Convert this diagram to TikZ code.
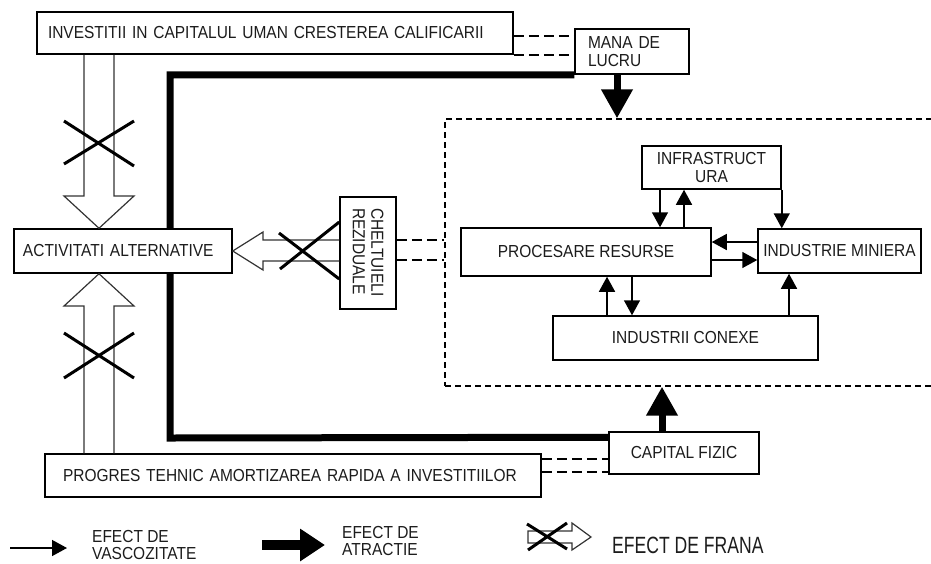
\documentclass[tikz,border=0pt]{standalone}
\usepackage{fontspec}
\setmainfont{Liberation Sans}[FakeStretch=0.89]
\usetikzlibrary{calc,arrows.meta,positioning}
\definecolor{inkc}{HTML}{1C1C1C}
\tikzset{
  box/.style={draw,line width=1.5pt,fill=white,text=inkc,font=\fontsize{17.4}{18.5}\selectfont,inner sep=0pt},
  zone/.style={draw,line width=1.3pt,dash pattern=on 6pt off 4pt},
  vis/.style={-{Triangle[length=15pt,width=16pt]},line width=1.5pt},
  atr/.style={-{Triangle[length=29pt,width=30pt]},line width=7pt},
  heavy/.style={line width=7pt,line join=miter},
  dl/.style={line width=1.5pt,dash pattern=on 10pt off 5pt},
  hol/.style={line width=1.2pt,draw=black!80,line join=miter},
  crs/.style={line width=3pt},
  lgd/.style={text=inkc,font=\fontsize{17.4}{17.5}\selectfont,align=left,inner sep=0pt}
}
\begin{document}
\begin{tikzpicture}[x=1pt,y=-1pt]
\useasboundingbox (0,0) rectangle (931,563);
% dashed zone and its boxes
\node[zone,minimum width=495pt,minimum height=267pt] (core) at (692.5,252.5) {};
\node[box,minimum width=139pt,minimum height=43pt,align=center] (infra) at (711.5,167.5) {INFRASTRUCT\\URA};
\node[box,minimum width=250pt,minimum height=48pt] (proc) at (586,252) {PROCESARE RESURSE};
\node[box,minimum width=163pt,minimum height=44pt] (min) at (839.5,251) {INDUSTRIE MINIERA};
\node[box,minimum width=265pt,minimum height=44pt] (conx) at (685.5,338) {INDUSTRII CONEXE};
% outer boxes
\node[box,minimum height=42pt,text width=454pt,inner xsep=11pt,align=left] (inv) at (275,33) {INVESTITII IN CAPITALUL UMAN CRESTEREA CALIFICARII};
\node[box,minimum height=45pt,text width=88pt,inner xsep=13pt,align=left] (mana) at (632,51.5) {MANA DE\\LUCRU};
\node[box,minimum width=150pt,minimum height=42pt] (cap) at (684,453) {CAPITAL FIZIC};
\node[box,minimum height=43pt,text width=460pt,inner xsep=18pt,align=left] (prog) at (293,475.5) {PROGRES TEHNIC AMORTIZAREA RAPIDA A INVESTITIILOR};
\node[box,rotate=-90,minimum height=56pt,text width=90pt,inner xsep=11pt,align=left] (chelt) at (368,253) {CHELTUIELI\\REZIDUALE};
% attraction line behind the alternative box
\draw[heavy] (mana.south west) -| (170,438) -- ([yshift=-6pt]cap.north west);
\node[box,minimum height=44pt,text width=200pt,inner xsep=9pt,align=left] (act) at (123,251) {ACTIVITATI ALTERNATIVE};
% dashed links
\draw[dl] (inv.east |- 0,36) -- (mana.west |- 0,36);
\draw[dl] (inv.south east) -- (mana.west |- inv.south east);
\draw[dl] (chelt.north |- 0,240) -- (core.west |- 0,240);
\draw[dl] (chelt.north |- 0,260) -- (core.west |- 0,260);
\draw[dl] (prog.east |- 0,459) -- (cap.west |- 0,459);
\draw[dl] (prog.east |- 0,472) -- (cap.west |- 0,472);
% viscosity arrows
\draw[vis] (infra.south -| 660,0) -- (proc.north -| 660,0);
\draw[vis] (proc.north -| 684,0) -- (infra.south -| 684,0);
\draw[vis] (infra.south east) -- (min.north -| infra.south east);
\draw[vis] (min.west |- 0,242) -- (proc.east |- 0,242);
\draw[vis] (proc.east |- 0,260) -- (min.west |- 0,260);
\draw[vis] (conx.north -| 607,0) -- (proc.south -| 607,0);
\draw[vis] (proc.south -| 632,0) -- (conx.north -| 632,0);
\draw[vis] (conx.north -| 789,0) -- (min.south -| 789,0);
% attraction arrows
\draw[atr] (mana.south -| 617,0) -- (core.north -| 617,0);
\draw[atr] (cap.north -| 662,0) -- (core.south -| 662,0);
% brake arrows
\draw[hol] (inv.south -| 84,0) -- (84,196) -- (64,196) -- (act.north -| 99,0) -- (134,196) -- (114,196) -- (inv.south -| 114,0);
\draw[hol] (prog.north -| 84,0) -- (84,306) -- (64,306) -- (act.south -| 99,0) -- (134,306) -- (114,306) -- (prog.north -| 114,0);
\draw[hol] (chelt.south |- 0,240) -- (263,240) -- (263,232) -- (act.east |- 0,251) -- (263,270) -- (263,261) -- (chelt.south |- 0,261);
\draw[crs] (64,121) -- (134,166) (64,164) -- (134,121);
\draw[crs] (64,333) -- (134,378) (64,378) -- (134,333);
\draw[crs] (279,233) -- (chelt.south |- 0,279) (280,269) -- (chelt.south |- 0,222);
% legend
\coordinate (v0) at (10,548);
\coordinate (v1) at (67,548);
\draw[vis] (v0) -- (v1);
\node[lgd,anchor=west] (vtxt) at (92,545) {EFECT DE\\VASCOZITATE};
\coordinate (a0) at (262,545);
\coordinate (a1) at (325,545);
\draw[line width=10pt,-{Triangle[length=25pt,width=31pt]}] (a0) -- (a1);
\node[lgd,anchor=west] (atxt) at (342,541) {EFECT DE\\ATRACTIE};
\draw[hol] (528,531) -- (572,531) -- (572,523) -- (591,537) -- (572,550) -- (572,543) -- (528,543) -- cycle;
\draw[crs] (527,524) -- (567,549) (528,550) -- (567,523);
\node[lgd,anchor=west] (ftxt) at (612,545) {\scalebox{0.84}[1]{\fontsize{23.5}{26}\selectfont EFECT DE FRANA}};
\end{tikzpicture}
\end{document}
